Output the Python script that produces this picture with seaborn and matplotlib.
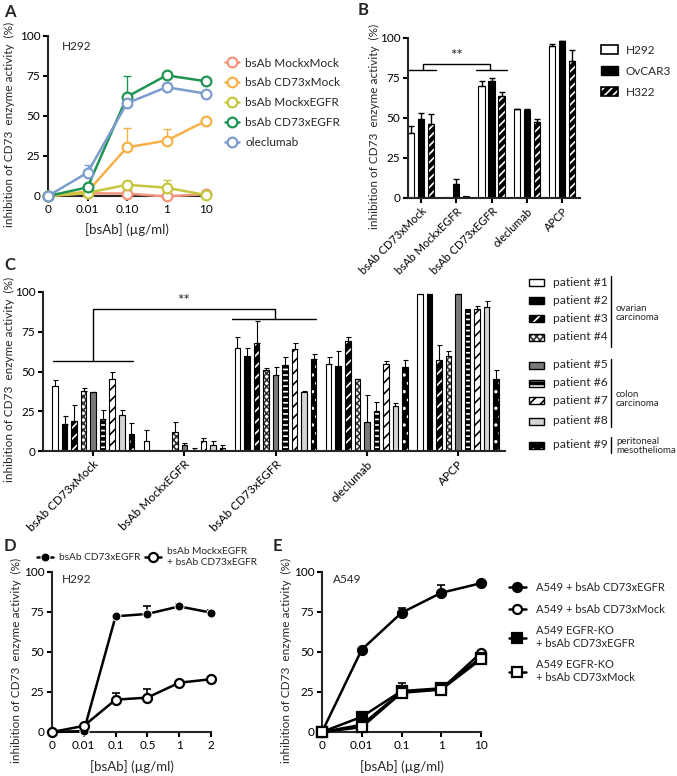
import numpy as np
import pandas as pd
import seaborn as sns
import matplotlib.pyplot as plt
from matplotlib.patches import Rectangle, Patch

# ---------------- data ----------------
# A: H292, dose response (mean, upper SD)
conc_a = ['0', '0.01', '0.10', '1', '10']
series_a = ['bsAb MockxMock', 'bsAb CD73xMock', 'bsAb MockxEGFR', 'bsAb CD73xEGFR', 'oleclumab']
mockmock_a = [0, 1.7, 1.5, -0.3, 1.2]
mockmock_a_err = [0, 0, 0, 0, 0]
cd73mock_a = [0, 2.7, 30.4, 34.6, 47]
cd73mock_a_err = [0, 0, 12, 7.5, 0]
mockegfr_a = [0, 2, 7, 5.2, 0.6]
mockegfr_a_err = [0, 0, 0, 5, 0]
cd73egfr_a = [0, 5.4, 62, 75.4, 71.7]
cd73egfr_a_err = [0, 2, 13, 0, 0]
olec_a = [0, 14.6, 58, 68, 64]
olec_a_err = [0, 5, 0, 2.5, 0]

# B: cell lines
groups_b = ['bsAb CD73xMock', 'bsAb MockxEGFR', 'bsAb CD73xEGFR', 'oleclumab', 'APCP']
cells_b = ['H292', 'OvCAR3', 'H322']
h292_b = [40.6, 0.6, 70.2, 55.4, 95.2]
h292_b_err = [4.6, 0, 3, 0.3, 1]
ovcar3_b = [49.6, 8.8, 72.9, 54.8, 97.9]
ovcar3_b_err = [3.5, 3.2, 2, 0.6, 0.5]
h322_b = [46.5, 1, 64, 47.3, 85.8]
h322_b_err = [6, 0, 2, 2.3, 6.5]

# C: patients
groups_c = ['bsAb CD73xMock', 'bsAb MockxEGFR', 'bsAb CD73xEGFR', 'oleclumab', 'APCP']
patients = ['patient #1', 'patient #2', 'patient #3', 'patient #4', 'patient #5',
            'patient #6', 'patient #7', 'patient #8', 'patient #9']
c_cd73mock = [41, 17, 19, 37.5, 37, 20, 45.5, 22.6, 10.5]
c_cd73mock_err = [3.6, 5, 10, 2.3, 0.4, 5.5, 4.3, 3, 7]
c_mockegfr = [6.5, 0.5, 0, 12, 4, 0.7, 6.2, 4, 2]
c_mockegfr_err = [7, 0, 0, 6.5, 1, 1, 2, 2, 2]
c_cd73egfr = [65, 60, 68, 51, 48, 54.4, 64.4, 37.4, 57.7]
c_cd73egfr_err = [6.5, 5, 13.5, 1.3, 5, 4.6, 3.8, 0.4, 3.5]
c_olec = [54.5, 53.5, 69, 45, 18.5, 25, 55, 28, 52.6]
c_olec_err = [4.5, 9.5, 3, 0.3, 16.5, 5.6, 1.5, 2, 4.5]
c_apcp = [98.5, 98.5, 57, 59.5, 98.5, 89.5, 89.5, 90.4, 45]
c_apcp_err = [0.5, 0.5, 9.5, 3.5, 0.5, 0, 1.9, 3.9, 5.7]

# D: H292, combination
conc_d = ['0', '0.01', '0.1', '0.5', '1', '2']
d_cd73egfr = [0, 0.6, 72.3, 73.8, 78.5, 74.6]
d_cd73egfr_err = [0, 0, 0, 4.7, 1.3, 1.9]
d_combo = [0, 3.8, 20.2, 21.5, 30.8, 33]
d_combo_err = [0, 0, 4.2, 5.5, 0, 0]

# E: A549 vs EGFR-KO
conc_e = ['0', '0.01', '0.1', '1', '10']
e_a549_egfr = [0, 51.5, 74.5, 87, 93]
e_a549_egfr_err = [0, 0, 3.2, 5, 0]
e_a549_mock = [0, 4.5, 25, 26.8, 49.5]
e_ko_egfr = [0, 9.5, 25.6, 27.3, 46.5]
e_ko_egfr_err = [0, 0, 5, 2.7, 0]
e_ko_mock = [0, 3, 24.5, 26.5, 45.5]

# ---------------- style ----------------
sns.set_style('ticks')
plt.rcParams['font.family'] = ['Lato', 'DejaVu Sans']
plt.rcParams['font.size'] = 8.5
plt.rcParams['axes.linewidth'] = 1.5
plt.rcParams['xtick.major.width'] = 1.5
plt.rcParams['ytick.major.width'] = 1.5
plt.rcParams['xtick.major.size'] = 3.5
plt.rcParams['ytick.major.size'] = 3.5
plt.rcParams['xtick.labelsize'] = 8.5
plt.rcParams['ytick.labelsize'] = 8.5
plt.rcParams['hatch.linewidth'] = 1.2

W, H = 677, 776
fig = plt.figure(figsize=(W / 100, H / 100), dpi=100)

YLAB = 'inhibition of CD73  enzyme activity  (%)'


def px_axes(l, t, r, b):
    return fig.add_axes([l / W, 1 - b / H, (r - l) / W, (b - t) / H])


def fix_axes(ax, l, r, ylab_right):
    sns.despine(ax=ax)
    ax.set_ylim(0, 100)
    ax.set_yticks([0, 25, 50, 75, 100])
    ax.tick_params(pad=2, colors='black')
    ax.set_ylabel(YLAB, fontsize=8.5)
    ax.yaxis.set_label_coords((ylab_right - l) / (r - l), 0.45)


def upper_err(ax, x, y, err, color='black', lw=1, cap=2.5):
    x = np.asarray(x, float); y = np.asarray(y, float); err = np.asarray(err, float)
    m = err > 0
    if m.any():
        ax.errorbar(x[m], y[m], yerr=[np.zeros(m.sum()), err[m]], fmt='none',
                    ecolor=color, elinewidth=lw, capsize=cap, capthick=lw, zorder=2)


def style_bars(ax, container, face, hatch, hatch_col):
    for bar in container:
        bar.set_facecolor(face)
        bar.set_hatch(hatch)
        bar.set_edgecolor(hatch_col)
        bar.set_linewidth(0)
        ax.add_patch(Rectangle(bar.get_xy(), bar.get_width(), bar.get_height(),
                               fill=False, ec='black', lw=0.8, zorder=bar.get_zorder() + 0.1))


# ---------------- panel A ----------------
L, T, R, B = 48, 36, 206, 196
axA = px_axes(L, T, R, B)
xa = np.arange(len(conc_a))
vals_a = [mockmock_a, cd73mock_a, mockegfr_a, cd73egfr_a, olec_a]
errs_a = [mockmock_a_err, cd73mock_a_err, mockegfr_a_err, cd73egfr_a_err, olec_a_err]
colors_a = ['#f29579', '#f7b147', '#c6c73f', '#1f9453', '#7b9ccd']
for name, v, e, c in zip(series_a, vals_a, errs_a, colors_a):
    upper_err(axA, xa, v, e, color=c, lw=1, cap=3)
    sns.lineplot(x=xa, y=v, ax=axA, color=c, marker='o', markersize=7,
                 markerfacecolor='white', markeredgecolor=c, markeredgewidth=1.6,
                 linewidth=1.8, label=name, clip_on=False, zorder=3)
axA.set_xlim(0, len(conc_a) - 1)
axA.set_xticks(xa)
axA.set_xticklabels(conc_a)
fix_axes(axA, L, R, 15)
axA.set_xlabel('[bsAb] (µg/ml)', fontsize=9.5, labelpad=6)
axA.text(0.09, 0.97, 'H292', transform=axA.transAxes, fontsize=8.5, va='top')
h, lab = axA.get_legend_handles_labels()
axA.legend(h, lab, loc='upper left', bbox_to_anchor=(214 / W, 1 - 47 / H),
           bbox_transform=fig.transFigure, frameon=False, fontsize=8.5,
           handlelength=1.2, labelspacing=0.75, handletextpad=0.55)

# ---------------- panel B ----------------
L, T, R, B = 408, 38, 580, 198
axB = px_axes(L, T, R, B)
df_b = pd.DataFrame({
    'group': groups_b * 3,
    'cell': np.repeat(cells_b, len(groups_b)),
    'value': h292_b + ovcar3_b + h322_b,
})
sns.barplot(data=df_b, x='group', y='value', hue='cell', order=groups_b,
            hue_order=cells_b, width=0.85, gap=0.38, errorbar=None,
            legend=False, ax=axB)
styles_b = [('white', '', 'black'), ('black', '', 'black'), ('black', '////', 'white')]
errs_b = [h292_b_err, ovcar3_b_err, h322_b_err]
for cont, (fc, ht, hc), v, e in zip(axB.containers, styles_b, [h292_b, ovcar3_b, h322_b], errs_b):
    style_bars(axB, cont, fc, ht, hc)
    upper_err(axB, [b.get_x() + b.get_width() / 2 for b in cont], v, e)
axB.set_xlim(-0.37, 4.51)
fix_axes(axB, L, R, 380)
axB.set_xlabel('')
axB.set_xticks(range(len(groups_b)))
axB.set_xticklabels(groups_b, rotation=45, ha='right', rotation_mode='anchor', fontsize=8)
# significance bracket
for xc in [0, 2]:
    axB.plot([xc - 0.43, xc + 0.43], [80, 80], color='black', lw=1)
axB.plot([0.05, 0.05, 1.95, 1.95], [80, 84, 84, 80], color='black', lw=1)
axB.text(1.0, 84.5, '**', ha='center', va='bottom', fontsize=11)
hb = [Patch(fc='white', ec='black', lw=1.2), Patch(fc='black', ec='black'),
      (Patch(fc='black', ec='white', hatch='////', lw=0), Patch(fill=False, ec='black', lw=1.2))]
axB.legend(hb, cells_b, loc='upper left', bbox_to_anchor=(590 / W, 1 - 34 / H),
           bbox_transform=fig.transFigure, frameon=False, fontsize=8.5,
           handlelength=1.5, handleheight=0.8, labelspacing=0.85, handletextpad=0.6)

# ---------------- panel C ----------------
L, T, R, B = 43, 292, 505, 451
axC = px_axes(L, T, R, B)
vals_c = [c_cd73mock, c_mockegfr, c_cd73egfr, c_olec, c_apcp]
errs_c = [c_cd73mock_err, c_mockegfr_err, c_cd73egfr_err, c_olec_err, c_apcp_err]
df_c = pd.DataFrame({
    'group': np.repeat(groups_c, len(patients)),
    'patient': patients * len(groups_c),
    'value': np.concatenate(vals_c),
})
sns.barplot(data=df_c, x='group', y='value', hue='patient', order=groups_c,
            hue_order=patients, width=0.94, gap=0.42, errorbar=None,
            legend=False, ax=axC)
styles_c = [('white', '', 'black'), ('black', '', 'black'), ('black', '///', 'white'),
            ('white', 'xxxxx', '#333333'), ('#7a7a7a', '', 'black'), ('black', '---', 'white'),
            ('white', '///', 'black'), ('#d4d4d4', '', 'black'), ('black', '..', 'white')]
err_by_patient = np.array(errs_c).T
val_by_patient = np.array(vals_c).T
for cont, (fc, ht, hc), v, e in zip(axC.containers, styles_c, val_by_patient, err_by_patient):
    style_bars(axC, cont, fc, ht, hc)
    upper_err(axC, [b.get_x() + b.get_width() / 2 for b in cont], v, e, lw=0.8, cap=1.8)
axC.set_xlim(-0.55, 4.515)
fix_axes(axC, L, R, 15)
axC.set_xlabel('')
axC.set_xticks(range(len(groups_c)))
axC.set_xticklabels(groups_c, rotation=45, ha='right', rotation_mode='anchor')
axC.plot([-0.44, 0.44], [56.7, 56.7], color='black', lw=1)
axC.plot([1.52, 2.44], [83.3, 83.3], color='black', lw=1)
axC.plot([0.0, 0.0, 1.99, 1.99], [56.7, 89, 89, 83.3], color='black', lw=1)
axC.text(0.99, 90, '**', ha='center', va='bottom', fontsize=11)

# manual legend for C (pixel coordinates)
axL = fig.add_axes([0, 0, 1, 1])
axL.set_xlim(0, W)
axL.set_ylim(H, 0)
axL.axis('off')
leg_y = [282, 300, 318, 337, 365, 383, 400, 421, 445]
for yy, name, (fc, ht, hc) in zip(leg_y, patients, styles_c):
    axL.add_patch(Rectangle((529, yy - 3.5), 15, 7, fc=fc, ec=hc, hatch=ht, lw=0))
    axL.add_patch(Rectangle((529, yy - 3.5), 15, 7, fill=False, ec='black', lw=1))
    axL.text(553, yy, name, fontsize=8.7, va='center')
for y0, y1, txt, ty in [(276, 347, 'ovarian\ncarcinoma', 313), (359, 427, 'colon\ncarcinoma', 399),
                        (437, 453, 'peritoneal\nmesothelioma', 446)]:
    axL.plot([611, 611], [y0, y1], color='black', lw=1)
    axL.text(616, ty, txt, fontsize=7, va='center', linespacing=1.1)

# ---------------- panel D ----------------
L, T, R, B = 52, 572, 211, 732
axD = px_axes(L, T, R, B)
xd = np.arange(len(conc_d))
upper_err(axD, xd, d_cd73egfr, d_cd73egfr_err, lw=1.2, cap=3)
upper_err(axD, xd, d_combo, d_combo_err, lw=1.2, cap=3)
sns.lineplot(x=xd, y=d_cd73egfr, ax=axD, color='black', marker='o', markersize=6.5,
             linewidth=1.8, label='bsAb CD73xEGFR', clip_on=False, zorder=3)
sns.lineplot(x=xd, y=d_combo, ax=axD, color='black', marker='o', markersize=6.5,
             markerfacecolor='white', markeredgecolor='black', markeredgewidth=1.6,
             linewidth=1.8, label='bsAb MockxEGFR\n+ bsAb CD73xEGFR', clip_on=False, zorder=3)
axD.set_xlim(0, len(conc_d) - 1)
axD.set_xticks(xd)
axD.set_xticklabels(conc_d)
fix_axes(axD, L, R, 22)
axD.set_xlabel('[bsAb] (µg/ml)', fontsize=9.5, labelpad=7)
axD.text(0.06, 0.99, 'H292', transform=axD.transAxes, fontsize=8.5, va='top')
h, lab = axD.get_legend_handles_labels()
axD.legend(h, lab, loc='center left', bbox_to_anchor=(28 / W, 1 - 557 / H),
           bbox_transform=fig.transFigure, frameon=False, fontsize=7.3, ncol=2,
           handlelength=1.6, handletextpad=0.6, columnspacing=0.4)

# ---------------- panel E ----------------
L, T, R, B = 322, 572, 481, 732
axE = px_axes(L, T, R, B)
xe = np.arange(len(conc_e))
upper_err(axE, xe, e_a549_egfr, e_a549_egfr_err, lw=1.2, cap=3)
upper_err(axE, xe, e_ko_egfr, e_ko_egfr_err, lw=1.2, cap=3)
series_e = [
    (e_a549_egfr, 'o', 'black', 'A549 + bsAb CD73xEGFR'),
    (e_a549_mock, 'o', 'white', 'A549 + bsAb CD73xMock'),
    (e_ko_egfr, 's', 'black', 'A549 EGFR-KO\n+ bsAb CD73xEGFR'),
    (e_ko_mock, 's', 'white', 'A549 EGFR-KO\n+ bsAb CD73xMock'),
]
for v, mk, mfc, name in series_e:
    sns.lineplot(x=xe, y=v, ax=axE, color='black', marker=mk, markersize=6.5,
                 markerfacecolor=mfc, markeredgecolor='black', markeredgewidth=1.6,
                 linewidth=1.8, label=name, clip_on=False, zorder=3)
axE.set_xlim(0, len(conc_e) - 1)
axE.set_xticks(xe)
axE.set_xticklabels(conc_e)
fix_axes(axE, L, R, 292)
axE.set_xlabel('[bsAb] (µg/ml)', fontsize=9.5, labelpad=7)
axE.text(0.07, 0.99, 'A549', transform=axE.transAxes, fontsize=8.5, va='top')
h, lab = axE.get_legend_handles_labels()
axE.legend(h, lab, loc='upper left', bbox_to_anchor=(499 / W, 1 - 572 / H),
           bbox_transform=fig.transFigure, frameon=False, fontsize=8,
           handlelength=1.5, handletextpad=0.9, labelspacing=0.95)

# panel letters
for letter, x, y in [('A', 4, 12), ('B', 358, 10), ('C', 4, 265), ('D', 4, 546), ('E', 273, 546)]:
    fig.text(x / W, 1 - y / H, letter, fontsize=12, fontweight='bold', va='center')

fig.savefig('out.png', dpi=100)
